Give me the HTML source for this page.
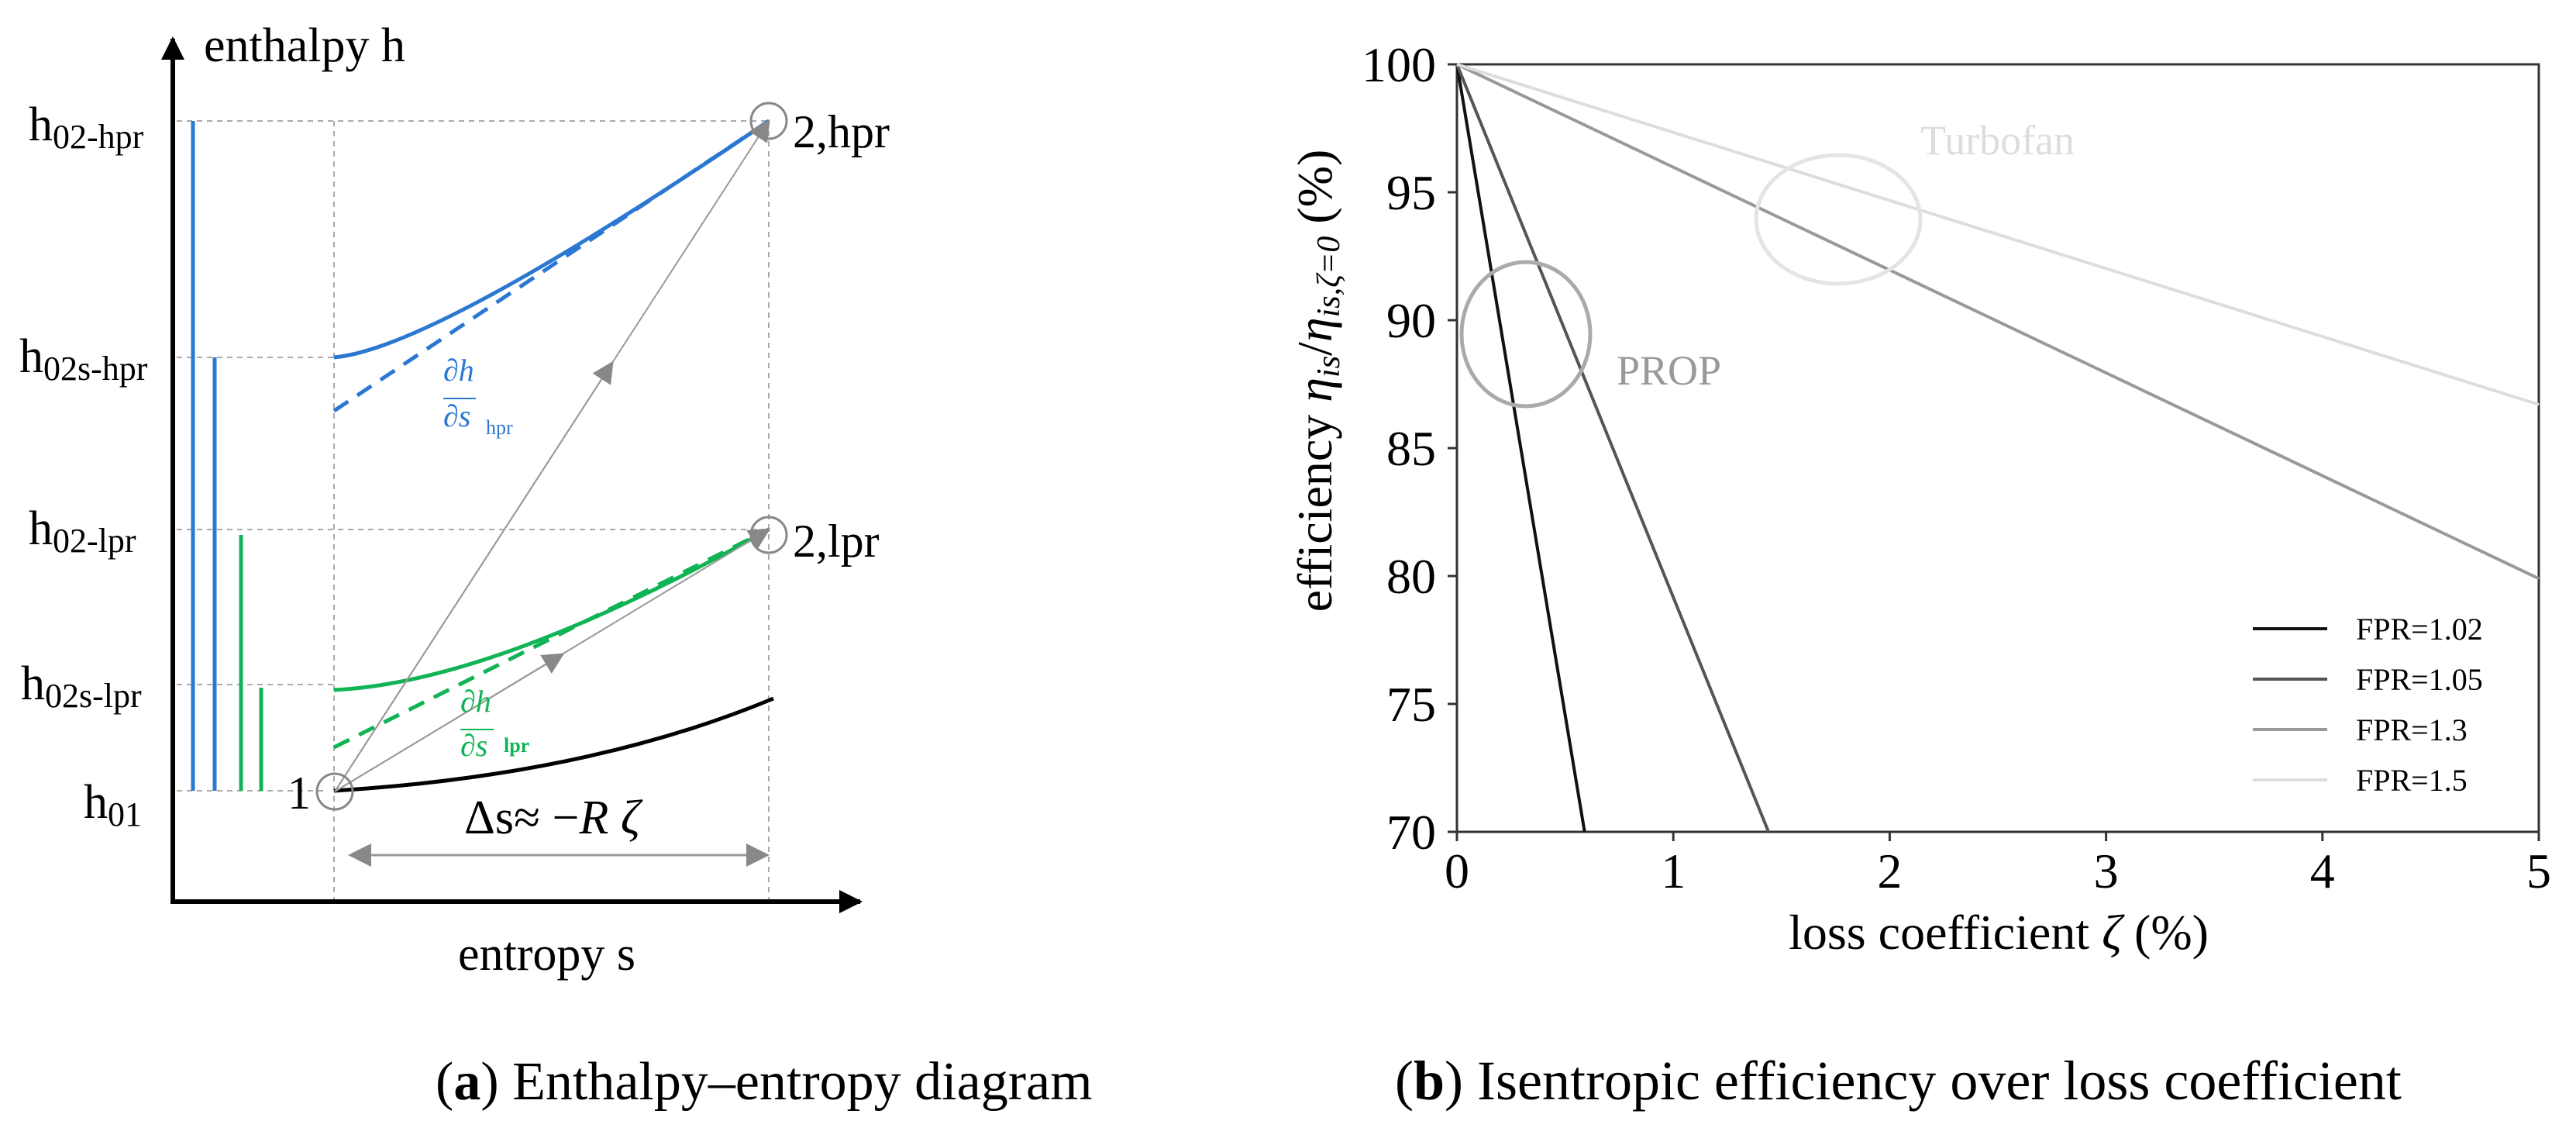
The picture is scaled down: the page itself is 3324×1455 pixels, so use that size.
<!DOCTYPE html>
<html><head><meta charset="utf-8"><style>
html,body{margin:0;padding:0;background:#fff;}
svg{display:block;font-family:"Liberation Serif",serif;}
</style></head><body>
<svg width="3324" height="1455" viewBox="0 0 3324 1455" xmlns="http://www.w3.org/2000/svg">
<defs>
<marker id="ah" viewBox="0 0 10 10" refX="9" refY="5" markerWidth="14" markerHeight="14" orient="auto-start-reverse" markerUnits="strokeWidth"><path d="M0,0 L10,5 L0,10 z" fill="#888"/></marker>
<marker id="ah2" viewBox="0 0 10 10" refX="9" refY="5" markerWidth="10" markerHeight="10" orient="auto-start-reverse" markerUnits="strokeWidth"><path d="M0,0 L10,5 L0,10 z" fill="#888"/></marker>
<marker id="axh" viewBox="0 0 10 10" refX="9" refY="5" markerWidth="5" markerHeight="5" orient="auto"><path d="M0,0 L10,5 L0,10 z" fill="#000"/></marker>
</defs>
<g>
<g stroke="#aaa" stroke-width="2" stroke-dasharray="7,6" fill="none">
<line x1="228" y1="156" x2="992" y2="156"/>
<line x1="228" y1="461" x2="431" y2="461"/>
<line x1="228" y1="683" x2="992" y2="683"/>
<line x1="228" y1="883" x2="431" y2="883"/>
<line x1="228" y1="1020" x2="420" y2="1020"/>
<line x1="431" y1="156" x2="431" y2="1163"/>
<line x1="992" y1="156" x2="992" y2="1163"/>
</g>
<line x1="223" y1="1163" x2="223" y2="50" stroke="#000" stroke-width="6" marker-end="url(#axh)"/>
<line x1="220" y1="1163" x2="1110" y2="1163" stroke="#000" stroke-width="6" marker-end="url(#axh)"/>
<text x="263" y="79" font-size="62">enthalpy h</text>
<text x="591" y="1251" font-size="62">entropy s</text>
<g font-size="62">
<text x="37" y="181">h<tspan font-size="44" dy="10">02-hpr</tspan></text>
<text x="25" y="480">h<tspan font-size="44" dy="10">02s-hpr</tspan></text>
<text x="37" y="702">h<tspan font-size="44" dy="10">02-lpr</tspan></text>
<text x="27" y="902">h<tspan font-size="44" dy="10">02s-lpr</tspan></text>
<text x="108" y="1055">h<tspan font-size="44" dy="10">01</tspan></text>
</g>
<g stroke-width="5">
<line x1="249" y1="156" x2="249" y2="1020" stroke="#2a78d2"/>
<line x1="277" y1="461" x2="277" y2="1020" stroke="#2a78d2"/>
<line x1="311" y1="690" x2="311" y2="1020" stroke="#10b454"/>
<line x1="337" y1="887" x2="337" y2="1020" stroke="#10b454"/>
</g>
<path d="M431,461 Q560,450 992,156" stroke="#2a78d2" stroke-width="5" fill="none"/>
<line x1="431" y1="530" x2="992" y2="156" stroke="#2a78d2" stroke-width="5" stroke-dasharray="22,14"/>
<path d="M431,890 Q640,880 992,683" stroke="#10b454" stroke-width="5" fill="none"/>
<line x1="431" y1="964" x2="992" y2="683" stroke="#10b454" stroke-width="5" stroke-dasharray="22,14"/>
<path d="M431,1020 Q760,1000 998,901" stroke="#000" stroke-width="5" fill="none"/>
<g stroke="#999" stroke-width="2" fill="none">
<line x1="432" y1="1021" x2="992" y2="156" marker-end="url(#ah)"/>
<line x1="432" y1="1021" x2="992" y2="683" marker-end="url(#ah)"/>
<line x1="432" y1="1021" x2="790" y2="468" marker-end="url(#ah)"/>
<line x1="432" y1="1021" x2="726" y2="844" marker-end="url(#ah)"/>
<line x1="452" y1="1103" x2="990" y2="1103" stroke-width="3" marker-start="url(#ah2)" marker-end="url(#ah2)"/>
</g>
<g stroke="#888" stroke-width="3" fill="none">
<circle cx="432" cy="1021" r="23"/>
<circle cx="992" cy="156" r="23"/>
<circle cx="992" cy="690" r="23"/>
</g>
<text x="1023" y="190" font-size="60">2,hpr</text>
<text x="1023" y="718" font-size="60">2,lpr</text>
<text x="371" y="1043" font-size="60">1</text>
<g fill="#2a78d2" font-style="italic" font-size="40">
<text x="572" y="491">∂h</text><line x1="572" y1="514" x2="614" y2="514" stroke="#2a78d2" stroke-width="2"/>
<text x="572" y="550">∂s</text><text x="627" y="560" font-style="normal" font-size="26">hpr</text>
</g>
<g fill="#10b454" font-style="italic" font-size="40">
<text x="594" y="918">∂h</text><line x1="594" y1="941" x2="637" y2="941" stroke="#10b454" stroke-width="2"/>
<text x="594" y="975">∂s</text><text x="650" y="970" font-style="normal" font-weight="bold" font-size="26">lpr</text>
</g>
<text x="599" y="1075" font-size="62">Δs≈ −<tspan font-style="italic">R ζ</tspan></text>
<text x="562" y="1418" font-size="70">(<tspan font-weight="bold">a</tspan>) Enthalpy–entropy diagram</text>
</g>

<g id="chartb">
<rect x="1880" y="83" width="1396" height="990" fill="none" stroke="#333" stroke-width="3"/>
<g id="xt" font-size="64" text-anchor="middle"></g>
<g id="yt" font-size="64" text-anchor="end"></g>
<g id="ln"></g>
<ellipse cx="1969" cy="431" rx="83" ry="93" fill="none" stroke="#aaa" stroke-width="5"/>
<ellipse cx="2372" cy="283" rx="106" ry="83" fill="none" stroke="#e4e4e4" stroke-width="5"/>
<text x="2086" y="496" font-size="54" fill="#999">PROP</text>
<text x="2478" y="199" font-size="54" fill="#ddd">Turbofan</text>
<g id="lg" font-size="40"></g>
<text x="2579" y="1224" font-size="64" text-anchor="middle">loss coefficient <tspan font-style="italic">ζ</tspan> (%)</text>
<text transform="translate(1718,491) rotate(-90)" font-size="64" text-anchor="middle">efficiency <tspan font-style="italic">η<tspan font-size="42" dy="10">is</tspan></tspan><tspan dy="-10">/</tspan><tspan font-style="italic">η<tspan font-size="42" dy="10">is,ζ=0</tspan></tspan><tspan dy="-10"> (%)</tspan></text>
<text x="1800" y="1418" font-size="72">(<tspan font-weight="bold">b</tspan>) Isentropic efficiency over loss coefficient</text>
</g>
</svg>
<script>
const xTicks=[0,1,2,3,4,5];
const yTicks=[70,75,80,85,90,95,100];
const seriesNames=["FPR=1.02","FPR=1.05","FPR=1.3","FPR=1.5"];
const seriesEndX=[0.59,1.44,5,5];
const seriesEndY=[70,70,79.9,86.7];
const seriesColors=["#111","#555","#999","#ddd"];
const NS="http://www.w3.org/2000/svg";
const X0=1880,X1=3276,Y0=1073,Y1=83;
function sx(v){return X0+(v-0)/(5-0)*(X1-X0);}
function sy(v){return Y0-(v-70)/(100-70)*(Y0-Y1);}
function mk(t,a,p){const e=document.createElementNS(NS,t);for(const k in a)e.setAttribute(k,a[k]);p.appendChild(e);return e;}
const xt=document.getElementById('xt'),yt=document.getElementById('yt'),ln=document.getElementById('ln'),lg=document.getElementById('lg');
xTicks.forEach(v=>{
 const l=mk('line',{x1:sx(v),y1:Y0,x2:sx(v),y2:Y0+12,stroke:'#333','stroke-width':3},xt);
 
 
 const t=mk('text',{x:sx(v),y:1145},xt);t.textContent=v;
 
 
});
yTicks.forEach(v=>{
 const l=mk('line',{x1:X0-12,y1:sy(v),x2:X0,y2:sy(v),stroke:'#333','stroke-width':3},yt);
 
 
 const t=mk('text',{x:1853,y:sy(v)+22},yt);t.textContent=v;
 
 
});
seriesNames.forEach((n,i)=>{
 const l=mk('line',{x1:sx(0),y1:sy(100),x2:sx(seriesEndX[i]),y2:sy(seriesEndY[i]),stroke:seriesColors[i],'stroke-width':4},ln);
 
 
 const y=811+i*65;
 const ll=mk('line',{x1:2907,y1:y,x2:3003,y2:y,stroke:seriesColors[i],'stroke-width':4},lg);
 
 
 const t=mk('text',{x:3040,y:y+14},lg);t.textContent=n;
 
 
});
</script>
</body></html>
